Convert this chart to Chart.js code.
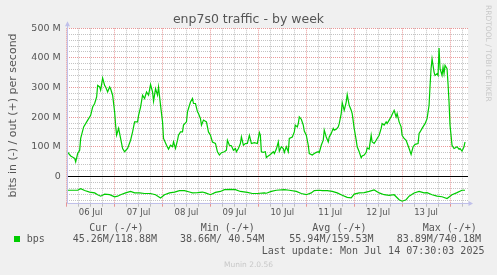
<!DOCTYPE html>
<html lang="en">
<head>
<meta charset="UTF-8">
<title>enp7s0 traffic - by week</title>
<style>
  html, body { margin: 0; padding: 0; background: #f0f0f0; }
  #wrap { position: relative; width: 497px; height: 275px; overflow: hidden; }
  #wrap canvas { position: absolute; left: 0; top: 0; }
  .t { position: absolute; white-space: pre; color: #555; }
  .mono { font-family: "DejaVu Sans Mono", monospace; font-size: 10px; line-height: 12px; }
</style>
</head>
<body>
<div id="wrap">
  <canvas id="traffic" width="497" height="275"></canvas>
  <div class="t" style="left:0;top:11px;width:497px;text-align:center;font:12.5px/15px 'DejaVu Sans';">enp7s0 traffic - by week</div>
  <div class="t" style="left:484px;top:5px;writing-mode:vertical-rl;font:7.5px/8px 'DejaVu Sans';color:#c8c8c8;">RRDTOOL / TOBI OETIKER</div>
  <div id="legend"></div>
</div>

<script src="https://cdn.jsdelivr.net/npm/chart.js"></script>
<script>
// hours since 06 Jul 00:00, values in Mbit/s
const outHours = [0, 2, 4, 4.5, 5.5, 6.5, 7, 8.5, 10, 12, 13, 14, 15, 15.5, 16.5, 17, 18, 19, 19.5, 20.5,
  21.5, 22, 23, 24, 24.5, 25, 26, 27, 28, 29, 30.5, 32, 33, 34, 35.5, 36, 37, 38, 39, 40,
  41, 42, 43, 43.5, 44.5, 45.5, 46, 47, 48, 48.5, 50, 51, 52, 53, 53.5, 54.5, 55.5, 56, 57, 58,
  58.5, 60, 60.5, 61, 62, 63, 63.5, 64.5, 65.5, 66, 67, 67.5, 68.5, 70, 71, 72, 73, 74.5, 75.5, 76.5,
  77.5, 79, 80, 80.5, 81.5, 82.5, 83.5, 84.5, 85, 86, 87, 87.5, 88.5, 89.5, 90.5, 91.5, 92.5, 94, 95.5, 96.5,
  97, 97.5, 98.5, 99.5, 100, 101, 102, 103.5, 104, 105, 106, 106.5, 107.5, 108.5, 109, 110, 111, 111.5, 113, 114,
  114.5, 115.5, 116, 116.5, 117.5, 118.5, 119, 120, 121, 121.5, 123, 124, 125, 126, 126.5, 127.5, 128.5, 129, 130, 131,
  131.5, 132.5, 133.5, 134, 135, 136, 136.5, 137.5, 138, 139, 140, 140.5, 141.5, 142.5, 143, 144, 145, 145.5, 146.5, 147.5,
  148, 149, 150, 150.5, 151.5, 152.5, 153, 154, 155, 155.5, 156.5, 157.5, 158, 159, 160, 160.5, 161.5, 162.5, 163, 164,
  165, 165.5, 166.5, 167.5, 168, 169, 170, 171.5, 172.5, 173.5, 174.5, 176, 176.5, 177, 178, 179, 179.5, 180.5, 181.5, 182,
  182.5, 183, 184, 184.5, 185.5, 186, 186.5, 187, 188, 188.5, 189, 189.5, 190.5, 191, 191.5, 192, 193, 194, 194.5, 195.5,
  196.5, 197, 198, 199, 199.5];
const outValues = [85, 69, 61, 49, 77, 88, 128, 167, 184, 206, 234, 246, 268, 307, 302, 291, 332, 307, 302, 285,
  302, 296, 274, 218, 173, 139, 162, 128, 94, 83, 94, 122, 150, 184, 184, 206, 234, 274, 263, 285,
  274, 310, 285, 254, 296, 274, 302, 240, 184, 128, 105, 92, 105, 100, 116, 94, 122, 139, 150, 150,
  173, 184, 218, 229, 251, 263, 246, 246, 218, 212, 195, 173, 190, 184, 150, 139, 116, 111, 83, 72,
  80, 83, 88, 122, 105, 103, 88, 94, 83, 94, 111, 133, 105, 111, 111, 139, 111, 114, 111, 148,
  139, 83, 81, 83, 63, 69, 74, 83, 77, 92, 116, 85, 100, 94, 81, 100, 83, 128, 133, 150,
  173, 167, 178, 201, 193, 173, 153, 139, 105, 77, 72, 77, 81, 83, 80, 105, 122, 156, 133, 116,
  133, 145, 162, 156, 159, 167, 178, 212, 249, 223, 251, 276, 240, 223, 212, 162, 122, 100, 83, 63,
  69, 72, 81, 96, 92, 139, 116, 111, 122, 128, 139, 162, 178, 173, 184, 178, 190, 201, 209, 223,
  201, 212, 184, 167, 139, 128, 122, 94, 74, 100, 108, 111, 145, 150, 162, 173, 178, 195, 240, 307,
  364, 397, 352, 341, 347, 341, 433, 364, 341, 369, 347, 375, 364, 313, 251, 173, 105, 94, 96, 100,
  92, 94, 85, 100, 116];

const inHours = [0, 5.5, 7, 9, 11.5, 14, 15.5, 17, 19, 21.5, 24, 25.5, 27, 29.5, 32, 34, 36.5, 39, 42, 44.5,
  47, 49, 51.5, 54, 56.5, 59, 61.5, 63, 65.5, 68, 69.5, 72, 74.5, 77, 79, 82, 84.5, 87, 90.5, 93,
  95.5, 99, 100, 102.5, 105, 109, 111.5, 115, 117.5, 120, 122.5, 124, 126.5, 128, 130.5, 133, 135.5, 138, 140.5, 142.5,
  144, 146.5, 149, 151.5, 154, 156.5, 159, 161.5, 164, 166.5, 168, 170, 171.5, 174, 176.5, 179, 180.5, 183, 185.5, 188,
  190.5, 193, 195.5, 198, 199.5];
const inValues = [-47, -47, -42, -48, -53, -56, -62, -67, -60, -62, -69, -67, -62, -56, -51, -56, -56, -58, -58, -62,
  -73, -62, -56, -53, -48, -48, -53, -56, -55, -53, -56, -62, -54, -51, -45, -44, -45, -51, -54, -58,
  -58, -56, -57, -51, -47, -45, -47, -51, -58, -62, -56, -48, -47, -48, -48, -51, -56, -64, -71, -73,
  -60, -56, -55, -51, -46, -56, -62, -64, -62, -79, -84, -79, -67, -56, -51, -56, -55, -62, -67, -69,
  -75, -62, -55, -47, -47];

const dayLabels = ['06 Jul', '07 Jul', '08 Jul', '09 Jul', '10 Jul', '11 Jul', '12 Jul', '13 Jul'];
const yLabelValues = [0, 100, 200, 300, 400, 500];
const yLabelTexts = ['0', '100 M', '200 M', '300 M', '400 M', '500 M'];

const statNames = ['Cur (-/+)', 'Min (-/+)', 'Avg (-/+)', 'Max (-/+)'];
const statValues = ['45.26M/118.88M', '38.66M/ 40.54M', '55.94M/159.53M', '83.89M/740.18M'];
const seriesName = 'bps';
const lastUpdate = 'Last update: Mon Jul 14 07:30:03 2025';
const footer = 'Munin 2.0.56';

const green = '#00cc00';
const majorGrid = 'rgba(225, 110, 110, 0.7)';
const minorGrid = 'rgba(170, 170, 170, 0.7)';
const axisColor = '#c0c0ea';

// legend / footer text under the plot
function buildLegend() {
    const headX = [89.3, 200.7, 312.3, 422.7];
    const valX = [72.7, 180, 289.3, 396.7];
    let html = '';
    statNames.forEach((n, i) => {
        html += `<div class="t mono" style="left:${headX[i]}px;top:221.5px">${n}</div>`;
        html += `<div class="t mono" style="left:${valX[i]}px;top:233px">${statValues[i]}</div>`;
    });
    html += `<div style="position:absolute;left:14px;top:236px;width:6px;height:6px;background:${green}"></div>`;
    html += `<div class="t mono" style="left:26.7px;top:233px">${seriesName}</div>`;
    html += `<div class="t mono" style="left:261.7px;top:244.5px">${lastUpdate}</div>`;
    html += `<div class="t" style="left:0;width:497px;text-align:center;top:260px;font:7.5px/9px 'DejaVu Sans';color:#c8c8c8">${footer}</div>`;
    document.getElementById('legend').innerHTML = html;
}

const frame = {
    id: 'frame',
    beforeDraw(chart) {
        const { ctx, chartArea: a } = chart;
        ctx.save();
        ctx.fillStyle = '#ffffff';
        ctx.fillRect(a.left, a.top, a.right - a.left, a.bottom - a.top);
        ctx.restore();
    },
    afterDatasetsDraw(chart) {
        const { ctx, chartArea: a } = chart;
        const x0 = Math.round(a.left) + 0.5, y0 = Math.round(a.bottom) + 0.5;
        ctx.save();
        ctx.strokeStyle = axisColor;
        ctx.fillStyle = axisColor;
        ctx.lineWidth = 1;
        ctx.beginPath();
        ctx.moveTo(x0, y0);
        ctx.lineTo(x0, a.top - 3);
        ctx.moveTo(x0, y0);
        ctx.lineTo(a.right + 1, y0);
        ctx.stroke();
        ctx.beginPath();
        ctx.moveTo(x0 - 2.5, a.top - 2);
        ctx.lineTo(x0 + 2.5, a.top - 2);
        ctx.lineTo(x0, a.top - 7);
        ctx.closePath();
        ctx.fill();
        ctx.beginPath();
        ctx.moveTo(a.right + 0.5, y0 - 2.5);
        ctx.lineTo(a.right + 0.5, y0 + 2.5);
        ctx.lineTo(a.right + 5, y0);
        ctx.closePath();
        ctx.fill();
        ctx.restore();
    }
};

function drawChart() {
    const ctx = document.getElementById('traffic').getContext('2d');
    new Chart(ctx, {
        type: 'line',
        data: {
            datasets: [{
                label: 'in',
                data: inHours.map((h, i) => ({ x: h, y: inValues[i] })),
                borderColor: green,
                borderWidth: 1.2,
                pointRadius: 0,
                tension: 0,
                fill: false
            }, {
                label: 'out',
                data: outHours.map((h, i) => ({ x: h, y: outValues[i] })),
                borderColor: green,
                borderWidth: 1.2,
                pointRadius: 0,
                tension: 0,
                fill: false
            }]
        },
        options: {
            responsive: false,
            animation: false,
            devicePixelRatio: 1,
            layout: { padding: { left: 0, right: 29, top: 28.3, bottom: 52.3 } },
            plugins: { legend: { display: false }, tooltip: { enabled: false } },
            scales: {
                x: {
                    type: 'linear',
                    min: 0,
                    max: 201,
                    afterFit: s => { s.height = 20; },
                    ticks: {
                        stepSize: 6,
                        includeBounds: false,
                        autoSkip: false,
                        maxRotation: 0,
                        padding: 1,
                        color: '#555',
                        font: { family: 'DejaVu Sans', size: 8.5 },
                        callback: v => (v % 24 === 12) ? dayLabels[(v - 12) / 24] : ''
                    },
                    grid: {
                        color: c => (c.tick && c.tick.value % 24 === 0) ? majorGrid : minorGrid,
                        tickColor: c => (c.tick && c.tick.value % 24 === 0) ? majorGrid : minorGrid,
                        tickLength: 4,
                        lineWidth: 1
                    },
                    border: { display: false, dash: [1, 1] }
                },
                y: {
                    min: -89,
                    max: 500,
                    afterFit: s => { s.width = 66.7; },
                    title: {
                        display: true,
                        text: 'bits in (-) / out (+) per second',
                        color: '#555',
                        font: { family: 'DejaVu Sans', size: 11 },
                        padding: { top: 6.4, bottom: 0 }
                    },
                    ticks: {
                        stepSize: 20,
                        includeBounds: false,
                        autoSkip: false,
                        padding: 6,
                        color: '#555',
                        font: { family: 'DejaVu Sans', size: 9.5 },
                        callback: v => {
                            const i = yLabelValues.indexOf(v);
                            return i >= 0 ? yLabelTexts[i] : '';
                        }
                    },
                    grid: {
                        drawTicks: false,
                        lineWidth: 1,
                        color: c => {
                            const v = c.tick ? c.tick.value : NaN;
                            if (v === 0) return '#000000';
                            return v % 100 === 0 ? majorGrid : minorGrid;
                        }
                    },
                    border: {
                        display: false,
                        dash: c => (c.tick && c.tick.value === 0) ? [] : [1, 1]
                    }
                }
            }
        },
        plugins: [frame]
    });
}

window.onload = function() {
    buildLegend();
    drawChart();
};
</script>
</body>
</html>
